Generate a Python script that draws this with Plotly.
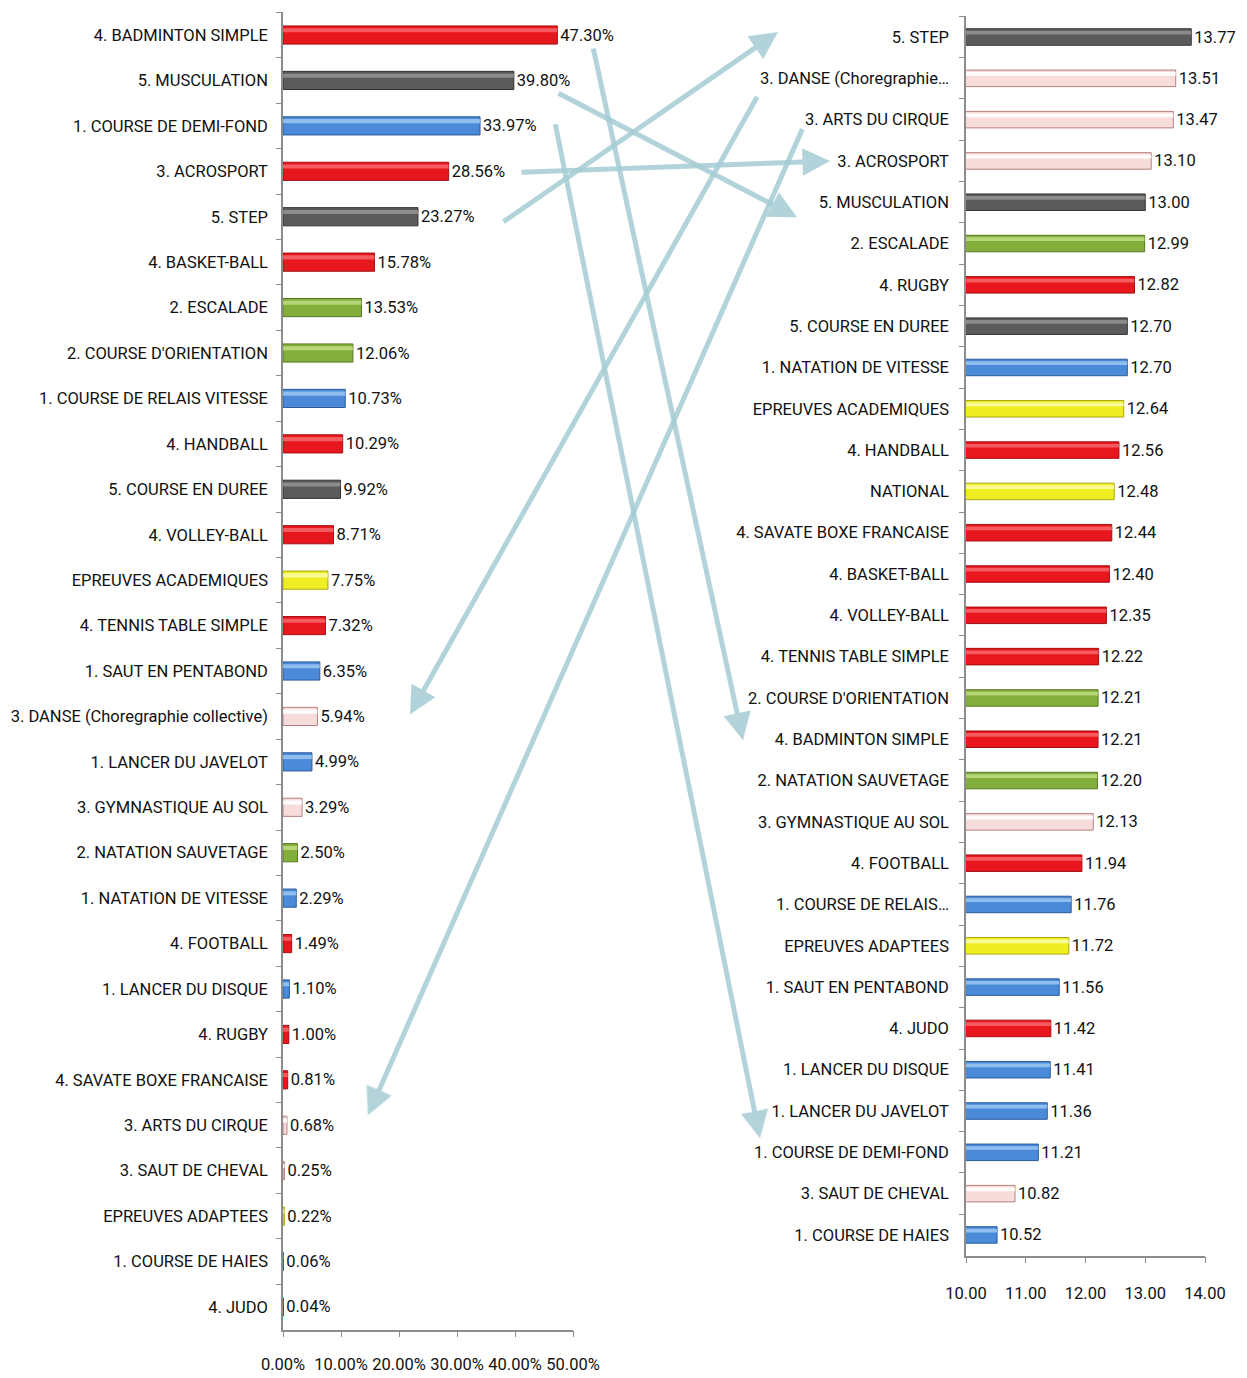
import plotly.graph_objects as go

# page body has an 8px margin: the figure is shifted by OFF px on both axes
OFF = 8
W, H = 1247 - OFF, 1378 - OFF

# ---------------- data ----------------
left_labels = [
    "4. BADMINTON SIMPLE", "5. MUSCULATION", "1. COURSE DE DEMI-FOND", "3. ACROSPORT",
    "5. STEP", "4. BASKET-BALL", "2. ESCALADE", "2. COURSE D'ORIENTATION",
    "1. COURSE DE RELAIS VITESSE", "4. HANDBALL", "5. COURSE EN DUREE", "4. VOLLEY-BALL",
    "EPREUVES ACADEMIQUES", "4. TENNIS TABLE SIMPLE", "1. SAUT EN PENTABOND",
    "3. DANSE (Choregraphie collective)", "1. LANCER DU JAVELOT", "3. GYMNASTIQUE AU SOL",
    "2. NATATION SAUVETAGE", "1. NATATION DE VITESSE", "4. FOOTBALL", "1. LANCER DU DISQUE",
    "4. RUGBY", "4. SAVATE BOXE FRANCAISE", "3. ARTS DU CIRQUE", "3. SAUT DE CHEVAL",
    "EPREUVES ADAPTEES", "1. COURSE DE HAIES", "4. JUDO",
]
left_values = [47.30, 39.80, 33.97, 28.56, 23.27, 15.78, 13.53, 12.06, 10.73, 10.29, 9.92,
               8.71, 7.75, 7.32, 6.35, 5.94, 4.99, 3.29, 2.50, 2.29, 1.49, 1.10, 1.00, 0.81,
               0.68, 0.25, 0.22, 0.06, 0.04]
left_groups = ["red", "grey", "blue", "red", "grey", "red", "green", "green", "blue", "red",
               "grey", "red", "yellow", "red", "blue", "pink", "blue", "pink", "green", "blue",
               "red", "blue", "red", "red", "pink", "pink", "yellow", "blue", "red"]

right_labels = [
    "5. STEP", "3. DANSE (Choregraphie…", "3. ARTS DU CIRQUE", "3. ACROSPORT",
    "5. MUSCULATION", "2. ESCALADE", "4. RUGBY", "5. COURSE EN DUREE",
    "1. NATATION DE VITESSE", "EPREUVES ACADEMIQUES", "4. HANDBALL", "NATIONAL",
    "4. SAVATE BOXE FRANCAISE", "4. BASKET-BALL", "4. VOLLEY-BALL", "4. TENNIS TABLE SIMPLE",
    "2. COURSE D'ORIENTATION", "4. BADMINTON SIMPLE", "2. NATATION SAUVETAGE",
    "3. GYMNASTIQUE AU SOL", "4. FOOTBALL", "1. COURSE DE RELAIS…", "EPREUVES ADAPTEES",
    "1. SAUT EN PENTABOND", "4. JUDO", "1. LANCER DU DISQUE", "1. LANCER DU JAVELOT",
    "1. COURSE DE DEMI-FOND", "3. SAUT DE CHEVAL", "1. COURSE DE HAIES",
]
right_values = [13.77, 13.51, 13.47, 13.10, 13.00, 12.99, 12.82, 12.70, 12.70, 12.64, 12.56,
                12.48, 12.44, 12.40, 12.35, 12.22, 12.21, 12.21, 12.20, 12.13, 11.94, 11.76,
                11.72, 11.56, 11.42, 11.41, 11.36, 11.21, 10.82, 10.52]
right_groups = ["grey", "pink", "pink", "pink", "grey", "green", "red", "grey", "blue", "yellow",
                "red", "yellow", "red", "red", "red", "red", "green", "red", "green", "pink",
                "red", "blue", "yellow", "blue", "red", "blue", "blue", "blue", "pink", "blue"]

left_ticks = [0, 10, 20, 30, 40, 50]
right_ticks = [10, 11, 12, 13, 14]

# arrows: (from side, from row index, to row index)
arrows = [
    ("L", 0, 17),   # badminton
    ("L", 1, 4),    # musculation
    ("L", 2, 27),   # demi-fond
    ("L", 3, 3),    # acrosport
    ("L", 4, 0),    # step
    ("R", 1, 15),   # danse
    ("R", 2, 24),   # arts du cirque
]
# style: tail x, tail dy, head x, head dy (page pixels)
arrow_style = [
    (593, 12, 743, 1),
    (557, 12, 797, 15),
    (555, -3, 760, -14),
    (520, 1, 830, 0),
    (502, 6, 778, -5),
    (758, 17, 410, -2),
    (803, 8, 368, -10),
]

# ---------------- style ----------------
FILL = {"red": "#e8161d", "grey": "#5b5b5b", "blue": "#4a8ad8", "green": "#84ae3c",
        "yellow": "#eeee22", "pink": "#f7dcdc"}
LINE = {"red": "#a50f14", "grey": "#333333", "blue": "#2a5a9a", "green": "#587a22",
        "yellow": "#a8a810", "pink": "#b88080"}
SHINE = {"red": "rgba(255,150,150,0.55)", "grey": "rgba(200,200,200,0.45)",
         "blue": "rgba(190,225,255,0.6)", "green": "rgba(215,240,160,0.6)",
         "yellow": "rgba(255,255,200,0.7)", "pink": "rgba(255,255,255,0.9)"}
FONT = "Roboto, Liberation Sans, sans-serif"
TXT = "#111111"
FS = 16.5

# plot area geometry (page pixels)
L_X0, L_X1, L_Y0, L_Y1 = 283, 573, 12.3, 1329.7
R_X0, R_X1, R_Y0, R_Y1 = 966, 1205, 16.35, 1255.6

def dom_x(a, b):
    return [(a - OFF) / W, (b - OFF) / W]

def dom_y(top, bot):
    return [1 - (bot - OFF) / H, 1 - (top - OFF) / H]

def row_y_left(i):
    return L_Y0 + (i + 0.5) * (L_Y1 - L_Y0) / len(left_labels)

def row_y_right(i):
    return R_Y0 + (i + 0.5) * (R_Y1 - R_Y0) / len(right_labels)

fig = go.Figure()

BW = 0.4
for vals, labs, groups, xa, ya, tmpl in [
    (left_values, left_labels, left_groups, "x", "y", "%{x:.2f}%"),
    (right_values, right_labels, right_groups, "x2", "y2", "%{x:.2f}"),
]:
    fig.add_trace(go.Bar(
        x=vals, y=labs, orientation="h", xaxis=xa, yaxis=ya,
        width=BW,
        marker=dict(color=[FILL[g] for g in groups],
                    line=dict(color=[LINE[g] for g in groups], width=1)),
        texttemplate=tmpl, textposition="outside", cliponaxis=False,
        constraintext="none",
        textfont=dict(family=FONT, size=FS, color=TXT), showlegend=False,
    ))
    # cylinder highlight stripe
    fig.add_trace(go.Bar(
        x=vals, y=labs, orientation="h", xaxis=xa, yaxis=ya,
        width=0.09, offset=-0.15,
        marker=dict(color=[SHINE[g] for g in groups], line=dict(width=0)),
        showlegend=False, hoverinfo="skip",
    ))

axis_common = dict(showgrid=False, zeroline=False, showline=True, linecolor="#8c8c8c",
                   linewidth=1.5, ticks="outside", tickcolor="#8c8c8c", automargin=False,
                   tickfont=dict(family=FONT, size=FS, color=TXT))

fig.update_layout(
    template="none", barmode="overlay",
    width=W, height=H, margin=dict(l=0, r=0, t=0, b=0, autoexpand=False),
    paper_bgcolor="white", plot_bgcolor="white",
    xaxis=dict(domain=dom_x(L_X0, L_X1), range=[0, 50], tickvals=left_ticks,
               ticktext=[f"{v:.2f}%" for v in left_ticks], anchor="y", tickangle=0,
               ticklen=6, ticklabelstandoff=13, **axis_common),
    yaxis=dict(domain=dom_y(L_Y0, L_Y1), type="category", categoryorder="array",
               categoryarray=left_labels, autorange="reversed", anchor="x",
               tickson="boundaries", ticklen=5, ticklabelstandoff=10, **axis_common),
    xaxis2=dict(domain=dom_x(R_X0, R_X1), range=[10, 14], tickvals=right_ticks,
                ticktext=[f"{v:.2f}" for v in right_ticks], anchor="y2", tickangle=0,
                ticklen=6, ticklabelstandoff=16, **axis_common),
    yaxis2=dict(domain=dom_y(R_Y0, R_Y1), type="category", categoryorder="array",
                categoryarray=right_labels, autorange="reversed", anchor="x2",
                tickson="boundaries", ticklen=5, ticklabelstandoff=12, **axis_common),
)

annotations = []
for (side, i_from, i_to), (tx, tdy, hx, hdy) in zip(arrows, arrow_style):
    if side == "L":
        ty = row_y_left(i_from) + tdy
        hy = row_y_right(i_to) + hdy
    else:
        ty = row_y_right(i_from) + tdy
        hy = row_y_left(i_to) + hdy
    annotations.append(dict(
        xref="paper", yref="paper", x=(hx - OFF) / W, y=1 - (hy - OFF) / H,
        axref="pixel", ayref="pixel", ax=tx - hx, ay=ty - hy,
        text="", showarrow=True, arrowhead=2, arrowsize=1.1, arrowwidth=5,
        arrowcolor="rgba(165,204,212,0.85)", standoff=0,
    ))
fig.update_layout(annotations=annotations)

fig.write_html("out.html")
